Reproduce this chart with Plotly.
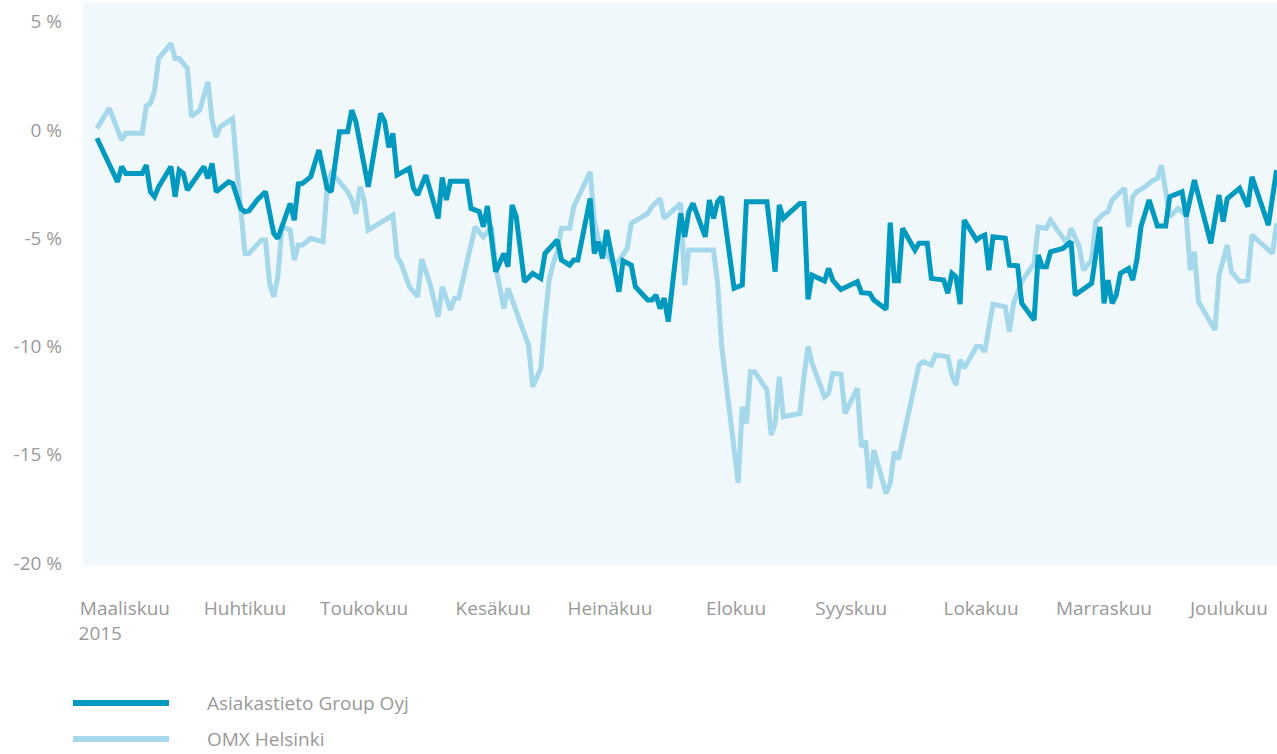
import plotly.graph_objects as go

# Trading-day offsets (calendar days since listing, 20.3.2015) and cumulative change, %
asiakastieto_day = [0,5,6,7,11,12,13,14,15,18,19,20,21,22,26,27,28,29,32,33,35,36,37,39,41,43,44,47,48,49,50,52,54,56,57,59,61,62,63,65,66,69,70,71,72,73,76,77,78,80,83,84,85,86,90,91,93,94,95,97,99,100,101,102,104,106,108,109,112,113,115,116,117,120,121,122,123,124,127,128,130,131,134,135,136,137,138,139,142,143,144,145,148,149,150,151,152,155,157,158,163,165,166,167,171,172,173,174,177,178,179,180,181,185,186,188,189,192,193,194,195,196,199,200,202,203,206,207,208,209,210,211,214,215,216,217,218,221,222,224,225,228,229,230,231,232,235,237,238,242,244,245,246,247,248,249,251,252,253,254,256,258,260,261,264,265,267,271,273,274,275,278,280,281,285,287]
asiakastieto_pct = [-0.38,-2.39,-1.69,-2.0,-2.0,-1.62,-2.85,-3.08,-2.62,-1.69,-3.08,-1.85,-2.0,-2.77,-1.69,-2.23,-1.54,-2.85,-2.39,-2.46,-3.62,-3.77,-3.73,-3.23,-2.85,-4.77,-5.0,-3.39,-4.16,-2.49,-2.46,-2.16,-0.92,-2.69,-2.85,-0.08,-0.08,0.92,0.38,-1.69,-2.62,0.77,0.4,-0.8,-0.15,-2.08,-1.77,-2.69,-3.0,-2.08,-4.08,-2.19,-3.23,-2.36,-2.36,-3.62,-3.77,-4.47,-3.51,-6.54,-5.7,-6.31,-3.46,-4.0,-7.0,-6.62,-6.85,-5.7,-5.08,-6.0,-6.24,-6.0,-6.0,-3.16,-5.7,-5.16,-5.93,-4.62,-7.47,-6.04,-6.24,-7.24,-7.85,-7.85,-7.62,-8.24,-7.77,-8.85,-3.85,-4.93,-3.77,-3.39,-4.93,-3.23,-4.08,-3.31,-3.08,-7.31,-7.16,-3.31,-3.31,-6.54,-3.46,-4.08,-3.39,-3.39,-7.82,-6.7,-6.97,-6.39,-6.93,-7.16,-7.36,-7.0,-7.51,-7.54,-7.85,-8.28,-4.28,-6.96,-6.96,-4.54,-5.54,-5.23,-5.23,-6.85,-6.93,-7.54,-6.62,-6.78,-8.04,-4.16,-5.08,-4.93,-4.85,-6.47,-4.93,-5.0,-6.24,-6.27,-8.0,-8.78,-5.77,-6.31,-6.31,-5.62,-5.47,-5.16,-7.62,-7.08,-4.47,-8.0,-6.93,-8.0,-7.62,-6.62,-6.39,-6.93,-6.0,-4.47,-3.23,-4.43,-4.43,-3.08,-2.85,-4.0,-2.31,-5.23,-3.0,-4.23,-3.16,-2.69,-3.54,-2.16,-4.39,-1.85]

omx_day = [0,3,6,7,11,12,13,14,15,18,19,20,22,23,25,27,28,29,30,33,34,36,37,40,41,42,43,44,45,47,48,49,50,52,55,56,57,58,61,62,63,64,65,66,70,72,73,74,76,78,79,81,83,84,86,87,88,92,94,96,97,99,100,101,102,105,106,108,109,110,111,112,113,115,116,117,120,121,122,126,128,129,130,134,135,137,138,142,143,144,150,151,152,156,157,158,159,160,163,164,165,166,167,171,172,173,174,177,178,179,181,182,185,186,187,188,189,192,193,194,195,196,199,200,201,203,204,207,208,209,210,211,214,215,216,218,221,222,223,225,228,229,231,232,234,236,237,239,240,242,243,245,246,247,250,251,252,253,255,257,258,259,261,263,265,266,267,268,272,273,275,276,278,280,281,286,287]
omx_pct = [0.08,1.0,-0.46,-0.15,-0.15,1.11,1.23,1.82,3.31,4.0,3.31,3.31,2.85,0.62,0.92,2.23,0.46,-0.31,0.15,0.54,-1.69,-5.7,-5.7,-5.08,-5.08,-7.08,-7.7,-6.78,-4.47,-4.62,-6.0,-5.31,-5.31,-5.0,-5.16,-2.62,-2.0,-2.16,-2.85,-3.23,-3.85,-2.62,-3.23,-4.62,-4.16,-3.93,-5.85,-6.16,-7.24,-7.7,-5.97,-7.08,-8.62,-7.24,-8.31,-7.77,-7.77,-4.47,-4.93,-4.47,-6.31,-8.24,-7.31,-7.85,-8.31,-9.93,-11.86,-11.0,-8.78,-6.93,-6.16,-5.62,-4.54,-4.54,-3.54,-3.16,-1.93,-4.16,-5.08,-6.31,-5.7,-5.47,-4.31,-3.85,-3.54,-3.16,-4.08,-3.39,-7.16,-5.54,-5.54,-7.08,-10.0,-16.3,-12.78,-13.55,-11.16,-11.16,-12.0,-14.09,-13.55,-11.39,-13.24,-13.09,-11.39,-10.0,-10.78,-12.32,-12.16,-11.24,-11.27,-13.09,-11.93,-14.63,-14.35,-16.55,-14.78,-16.78,-16.32,-14.86,-15.21,-14.32,-11.78,-10.85,-10.7,-10.85,-10.39,-10.47,-11.32,-11.78,-10.62,-11.0,-10.0,-10.0,-10.24,-8.04,-8.16,-9.32,-8.0,-7.0,-6.16,-4.47,-4.54,-4.16,-4.7,-5.23,-4.54,-5.39,-6.47,-6.0,-4.23,-3.85,-3.77,-3.23,-2.69,-4.47,-3.08,-2.85,-2.62,-2.31,-2.23,-1.62,-4.0,-3.62,-3.93,-6.47,-5.62,-7.93,-9.24,-6.7,-5.31,-6.54,-7.0,-6.93,-4.85,-5.7,-4.31]

month_labels = ["Maaliskuu<br>2015" + "\u00a0" * 10, "Huhtikuu", "Toukokuu", "Kesäkuu", "Heinäkuu",
                "Elokuu", "Syyskuu", "Lokakuu", "Marraskuu", "Joulukuu"]
month_pos = [6.8, 36.0, 65.0, 96.4, 124.8, 155.5, 183.5, 215.1, 245.0, 275.4]
y_ticks = [5, 0, -5, -10, -15, -20]
y_labels = ["5 %", "0 %", "-5 %", "-10 %", "-15 %", "-20 %"]
series_names = ["Asiakastieto Group Oyj", "OMX Helsinki"]

DARK = "#0099BF"
LIGHT = "#A5D8EA"
GREY = "#999999"
FONT = "Open Sans"

fig = go.Figure()
fig.add_trace(go.Scatter(x=omx_day, y=omx_pct, mode="lines", name=series_names[1],
                         line=dict(color=LIGHT, width=5), showlegend=False))
fig.add_trace(go.Scatter(x=asiakastieto_day, y=asiakastieto_pct, mode="lines", name=series_names[0],
                         line=dict(color=DARK, width=5), showlegend=False))

# legend drawn below the chart
for i, (name, col) in enumerate(zip(series_names, [DARK, LIGHT])):
    yp = -0.2456 - i * 0.064
    fig.add_shape(type="line", xref="paper", yref="paper", x0=-0.0084, x1=0.072, y0=yp, y1=yp,
                  line=dict(color=col, width=6))
    fig.add_annotation(xref="paper", yref="paper", x=0.1022, y=yp, text=name, showarrow=False,
                       xanchor="left", yanchor="middle", font=dict(family=FONT, size=19, color=GREY))

fig.update_layout(
    width=1277, height=754,
    margin=dict(l=83, r=0, t=3, b=189),
    paper_bgcolor="white", plot_bgcolor="#F0F8FC",
    font=dict(family=FONT, size=19, color=GREY),
    xaxis=dict(range=[-3.4, 287.1], tickvals=month_pos, ticktext=month_labels,
               showgrid=False, zeroline=False, showline=False, ticks="",
               ticklabelstandoff=30, tickfont=dict(family=FONT, size=19, color=GREY)),
    yaxis=dict(range=[-20.09, 5.87], tickvals=y_ticks, ticktext=y_labels,
               showgrid=False, zeroline=False, showline=False, ticks="",
               ticklabelstandoff=20, tickfont=dict(family=FONT, size=19, color=GREY)),
)

fig.write_html("out.html", config={"displayModeBar": False},
               post_script="document.body.style.margin='0';document.body.style.overflow='hidden';")
